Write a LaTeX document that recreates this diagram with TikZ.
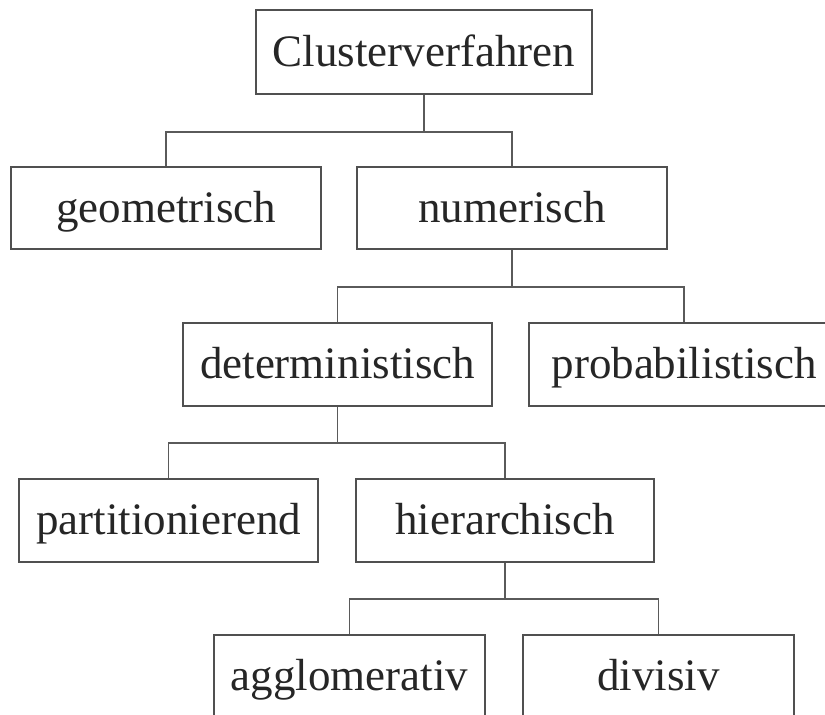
\documentclass[tikz,border=0pt]{standalone}
\usepackage{fontspec}
\setmainfont{Liberation Serif}
\definecolor{boxgray}{HTML}{505050}
\definecolor{linegray}{HTML}{5A5A5A}
\definecolor{textgray}{HTML}{262626}
\begin{document}
\begin{tikzpicture}[x=1pt,y=-1pt,
  box/.style={draw=boxgray, line width=1.6pt, minimum width=#1, minimum height=83pt,
    inner sep=0pt, text height=30pt, text depth=2pt,
    font=\fontsize{45}{54}\selectfont, text=textgray, fill=white},
  conn/.style={draw=linegray, line width=1.5pt}]
\clip (0,0) rectangle (825,715);
\fill[white] (0,0) rectangle (825,715);
\node[box=336pt, minimum height=84pt] (C) at (424,52) {Clusterverfahren};
\node[box=310pt, minimum height=82pt] (geo) at (166,208) {geometrisch};
\node[box=310pt, minimum height=82pt] (num) at (512,208) {numerisch};
\node[box=309pt] (det) at (337.5,364.5) {deterministisch};
\node[box=310pt] (prob) at (684,364.5) {probabilistisch};
\node[box=299pt] (part) at (168.5,520.5) {partitionierend};
\node[box=298pt] (hier) at (505,520.5) {hierarchisch};
\node[box=271pt] (agg) at (349.5,676.5) {agglomerativ};
\node[box=271pt] (div) at (658.5,676.5) {divisiv};
\coordinate (j1) at (0,132);
\coordinate (j2) at (0,287);
\coordinate (j3) at (0,443);
\coordinate (j4) at (0,599);
\draw[conn] (C.south) -- (C.south |- j1) -| (geo.north);
\draw[conn] (C.south |- j1) -| (num.north);
\draw[conn] (num.south) -- (num.south |- j2) -| (det.north);
\draw[conn] (num.south |- j2) -| (prob.north);
\draw[conn] (det.south) -- (det.south |- j3) -| (part.north);
\draw[conn] (det.south |- j3) -| (hier.north);
\draw[conn] (hier.south) -- (hier.south |- j4) -| (agg.north);
\draw[conn] (hier.south |- j4) -| (div.north);
\end{tikzpicture}
\end{document}
